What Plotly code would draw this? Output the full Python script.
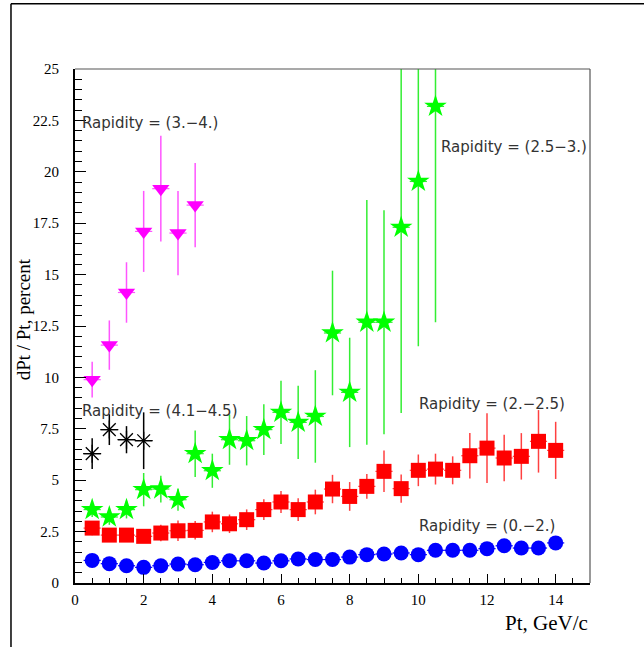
import plotly.graph_objects as go

# ---- data ----
pt_blue = [0.5,1,1.5,2,2.5,3,3.5,4,4.5,5,5.5,6,6.5,7,7.5,8,8.5,9,9.5,10,10.5,11,11.5,12,12.5,13,13.5,14]
res_blue = [1.10,0.94,0.84,0.76,0.84,0.92,0.89,1.00,1.08,1.08,0.97,1.08,1.17,1.14,1.14,1.26,1.38,1.41,1.46,1.38,1.59,1.59,1.59,1.67,1.81,1.70,1.70,1.95]
err_blue = [0.08]*28

pt_red = pt_blue
res_red = [2.67,2.33,2.33,2.27,2.43,2.54,2.56,2.97,2.88,3.08,3.57,3.94,3.57,3.94,4.57,4.21,4.70,5.43,4.59,5.48,5.54,5.48,6.19,6.56,6.08,6.16,6.89,6.45]
err_red = [0.35,0.3,0.3,0.3,0.4,0.5,0.45,0.5,0.45,0.5,0.5,0.54,0.55,0.6,0.69,0.7,0.6,1.01,0.69,0.77,0.75,0.68,1.11,1.7,1.13,1.13,1.52,1.39]

pt_green = [0.5,1,1.5,2,2.5,3,3.5,4,4.5,5,5.5,6,6.5,7,7.5,8,8.5,9,9.5,10,10.5]
res_green = [3.57,3.21,3.57,4.54,4.57,4.05,6.29,5.46,6.97,6.92,7.46,8.30,7.81,8.10,12.16,9.27,12.68,12.68,17.30,19.53,23.18]
err_green = [0.36,0.38,0.43,0.81,0.65,0.54,1.13,0.83,1.22,1.2,1.24,1.54,1.78,2.25,3.03,2.66,5.95,5.45,9.03,8.02,10.5]

pt_mag = [0.5,1,1.5,2,2.5,3,3.5]
res_mag = [9.89,11.57,14.13,17.10,19.18,17.02,18.38]
err_mag = [0.87,1.2,1.47,1.97,2.57,2.05,2.05]

pt_blk = [0.5,1,1.5,2]
res_blk = [6.29,7.46,6.97,6.92]
err_blk = [0.75,0.75,0.66,1.38]

x_half_width = 0.25

labels = [
    ("Rapidity = (3.\u22124.)", 0.15, 22.35),
    ("Rapidity = (4.1\u22124.5)", 0.15, 8.35),
    ("Rapidity = (2.5\u22123.)", 10.6, 21.2),
    ("Rapidity = (2.\u22122.5)", 9.95, 8.7),
    ("Rapidity = (0.\u22122.)", 9.95, 2.75),
]

fig = go.Figure()

def add(x, y, e, color, ecolor, symbol, size, lw=0, lc=None):
    fig.add_trace(go.Scatter(
        x=x, y=y, mode="markers",
        marker=dict(symbol=symbol, size=size, color=color,
                    line=dict(width=lw, color=lc if lc else color)),
        error_y=dict(type="data", array=e, visible=True, color=ecolor, thickness=1.5, width=0),
        error_x=dict(type="constant", value=x_half_width, visible=True, color=ecolor, thickness=1.2, width=0),
        showlegend=False, cliponaxis=True))

add(pt_blue, res_blue, err_blue, "#0000ff", "#0000ff", "circle", 15)
add(pt_red, res_red, err_red, "#ff0000", "#ff4040", "square", 15)
add(pt_green, res_green, err_green, "#00ff00", "#33ee33", "star", 17)
add(pt_mag, res_mag, err_mag, "#ff00ff", "#ff55ff", "triangle-down", 15)
add(pt_blk, res_blk, err_blk, "#000000", "#000000", "asterisk-open", 15, lw=1.3, lc="#000000")

for txt, x, y in labels:
    fig.add_annotation(x=x, y=y, xref="x", yref="y", text=txt, showarrow=False,
                       xanchor="left", yanchor="middle",
                       font=dict(family="DejaVu Sans", size=15, color="#333333"))

# axis titles
fig.add_annotation(x=1.0, y=-0.05, xref="paper", yref="paper", text="Pt, GeV/c",
                   showarrow=False, xanchor="right", yanchor="top",
                   font=dict(family="Liberation Serif", size=21, color="#000000"))
fig.add_annotation(x=-0.1, y=0.512, xref="paper", yref="paper", text="dPt / Pt, percent",
                   showarrow=False, textangle=-90, xanchor="center", yanchor="middle",
                   font=dict(family="Liberation Serif", size=19, color="#000000"))

# top / right thin frame of plot area
fig.add_shape(type="line", xref="paper", yref="paper", x0=0, x1=1, y0=1, y1=1,
              line=dict(color="#555555", width=1.2))
fig.add_shape(type="line", xref="paper", yref="paper", x0=1, x1=1, y0=0, y1=1,
              line=dict(color="#555555", width=1.2))
# outer canvas frame (top and left)
fig.add_shape(type="line", xref="paper", yref="paper", x0=-0.1243, x1=2, y0=1.127, y1=1.127,
              line=dict(color="#000000", width=1.5))
fig.add_shape(type="line", xref="paper", yref="paper", x0=-0.1243, x1=-0.1243, y0=-1, y1=1.127,
              line=dict(color="#000000", width=1.5))

fig.update_xaxes(range=[0, 15], showgrid=False, zeroline=False,
                 showline=True, linecolor="#000000", linewidth=2, mirror=False,
                 ticks="inside", ticklen=9, tickwidth=1.2, tickcolor="#000000",
                 tick0=0, dtick=2,
                 minor=dict(ticks="inside", ticklen=5, dtick=0.5, tickcolor="#000000", tickwidth=1),
                 tickfont=dict(family="Liberation Serif", size=15, color="#000000"),
                 ticklabelstandoff=2)
fig.update_yaxes(range=[0, 25], showgrid=False, zeroline=False,
                 showline=True, linecolor="#000000", linewidth=2, mirror=False,
                 ticks="inside", ticklen=11, tickwidth=1.2, tickcolor="#000000",
                 tick0=0, dtick=2.5,
                 minor=dict(ticks="inside", ticklen=7, dtick=0.5, tickcolor="#000000", tickwidth=1),
                 tickfont=dict(family="Liberation Serif", size=15, color="#000000"),
                 ticklabelstandoff=11)

fig.update_layout(width=644, height=647,
                  margin=dict(l=75, r=54, t=69, b=64, autoexpand=False),
                  plot_bgcolor="white", paper_bgcolor="white")

fig.write_html("out.html", config={"displayModeBar": False},
               post_script="document.body.style.margin='0';document.body.style.overflow='hidden';")
